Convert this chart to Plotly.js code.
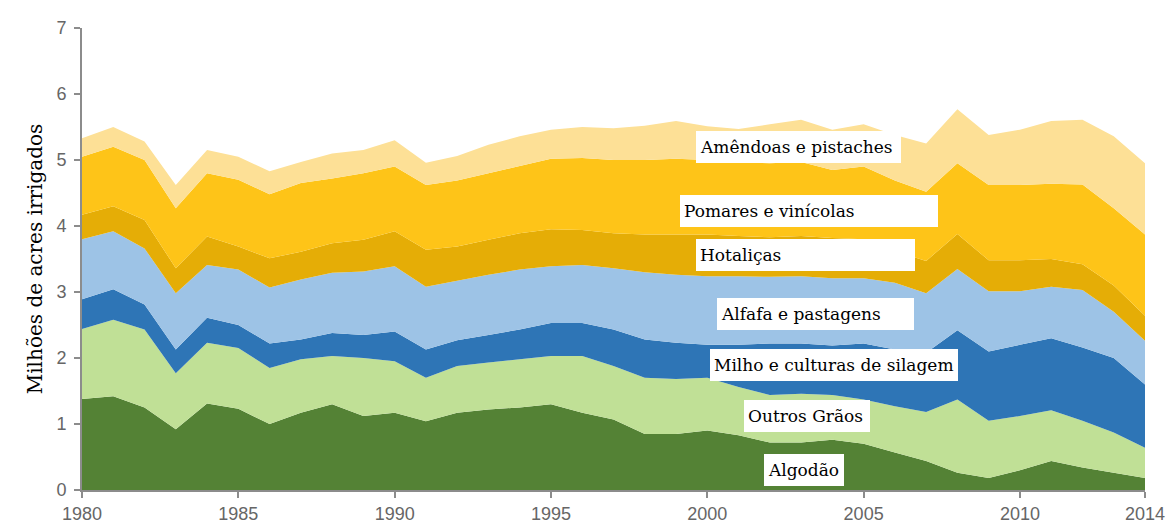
<!DOCTYPE html>
<html>
<head>
<meta charset="utf-8">
<script src="https://cdn.plot.ly/plotly-3.0.1.min.js"></script>
<style>
html,body{margin:0;padding:0;background:#fff;}
#chart{width:1167px;height:527px;}
</style>
</head>
<body>
<div id="chart"></div>
<script>
const years = [1980,1981,1982,1983,1984,1985,1986,1987,1988,1989,1990,1991,1992,1993,1994,1995,1996,1997,1998,1999,2000,2001,2002,2003,2004,2005,2006,2007,2008,2009,2010,2011,2012,2013,2014];

const algodao    = [1.38,1.42,1.25,0.92,1.31,1.23,1.00,1.17,1.30,1.12,1.17,1.04,1.17,1.22,1.25,1.30,1.17,1.07,0.85,0.85,0.90,0.83,0.72,0.72,0.76,0.70,0.57,0.44,0.26,0.18,0.30,0.44,0.34,0.26,0.18];
const outrosGraos= [1.06,1.16,1.18,0.85,0.92,0.92,0.85,0.81,0.73,0.88,0.78,0.66,0.71,0.71,0.73,0.73,0.86,0.81,0.85,0.83,0.80,0.73,0.72,0.74,0.68,0.67,0.70,0.74,1.11,0.87,0.82,0.77,0.71,0.61,0.46];
const milho      = [0.45,0.46,0.38,0.36,0.38,0.35,0.37,0.30,0.35,0.35,0.45,0.43,0.39,0.42,0.45,0.50,0.50,0.55,0.58,0.55,0.50,0.64,0.78,0.76,0.75,0.85,0.86,0.90,1.05,1.05,1.08,1.09,1.11,1.13,0.96];
const alfafa     = [0.91,0.88,0.85,0.85,0.80,0.84,0.85,0.91,0.91,0.96,0.99,0.95,0.90,0.91,0.91,0.86,0.88,0.93,1.02,1.03,1.04,1.04,1.01,1.02,1.02,0.99,1.01,0.90,0.93,0.91,0.81,0.78,0.87,0.70,0.66];
const hortalicas = [0.37,0.38,0.43,0.38,0.43,0.35,0.44,0.42,0.45,0.48,0.53,0.56,0.52,0.53,0.55,0.56,0.53,0.53,0.57,0.61,0.63,0.61,0.60,0.61,0.61,0.59,0.48,0.49,0.53,0.47,0.47,0.42,0.39,0.40,0.38];
const pomares    = [0.88,0.90,0.91,0.91,0.96,1.01,0.97,1.04,0.98,1.01,0.98,0.98,1.00,1.01,1.02,1.07,1.09,1.11,1.13,1.15,1.13,1.12,1.12,1.12,1.03,1.10,1.07,1.05,1.07,1.14,1.14,1.14,1.21,1.17,1.23];
const amendoas   = [0.28,0.30,0.28,0.35,0.35,0.35,0.35,0.32,0.38,0.35,0.40,0.34,0.37,0.43,0.45,0.44,0.47,0.48,0.52,0.57,0.51,0.50,0.59,0.64,0.61,0.64,0.69,0.73,0.82,0.76,0.84,0.95,0.98,1.09,1.08];

const seriesNames = ["Algodão","Outros Grãos","Milho e culturas de silagem","Alfafa e pastagens","Hotaliças","Pomares e vinícolas","Amêndoas e pistaches"];
const seriesValues = [algodao,outrosGraos,milho,alfafa,hortalicas,pomares,amendoas];
const seriesColors = ["#548235","#c0e096","#2e75b6","#9dc3e6","#e5ad06","#fec418","#fde096"];

const xTicks = [1980,1985,1990,1995,2000,2005,2010,2014];
const yTicks = [0,1,2,3,4,5,6,7];

const traces = seriesNames.map((n,i)=>({
  type:'scatter', mode:'none', name:n, x:years, y:seriesValues[i],
  stackgroup:'one', fillcolor:seriesColors[i], line:{width:0, shape:'linear'},
  hoverinfo:'x+y+name'
}));

// label boxes: [text, left px, center y px, box width]
const labelBoxes = [
  ["Amêndoas e pistaches", 696, 147, 205],
  ["Pomares e vinícolas", 680, 211, 258],
  ["Hotaliças", 696, 255, 219],
  ["Alfafa e pastagens", 717, 314, 197],
  ["Milho e culturas de silagem", 710, 365, 248],
  ["Outros Grãos", 744, 416, 126],
  ["Algodão", 764, 470, 80]
];
const W = 1167, H = 527, ml = 82, mr = 22, mt = 28, mb = 37;
const pw = W-ml-mr, ph = H-mt-mb;
const annotations = labelBoxes.map(b=>({
  xref:'paper', yref:'paper',
  x:(b[1]-ml)/pw, y:1-(b[2]-mt)/ph,
  xanchor:'left', yanchor:'middle',
  text:b[0], showarrow:false, align:'left',
  width:b[3]-8, height:24, borderpad:4,
  bgcolor:'#ffffff', borderwidth:0,
  font:{family:'DejaVu Serif, serif', size:17, color:'#000'}
}));

const layout = {
  width:W, height:H,
  margin:{l:ml, r:mr, t:mt, b:mb},
  paper_bgcolor:'#fff', plot_bgcolor:'#fff',
  showlegend:false,
  xaxis:{range:[1980,2014], tickvals:xTicks, ticktext:xTicks.map(String),
    showgrid:false, zeroline:false, showline:true, linecolor:'#8c8c8c', linewidth:2,
    ticks:'outside', ticklen:6, tickwidth:2, tickcolor:'#8c8c8c',
    ticklabeloverflow:'allow',
    tickfont:{family:'Liberation Sans, Arial, sans-serif', size:18, color:'#666'}},
  yaxis:{range:[0,7], tickvals:yTicks,
    showgrid:false, zeroline:false, showline:true, linecolor:'#8c8c8c', linewidth:2,
    ticks:'outside', ticklen:6, tickwidth:2, tickcolor:'#8c8c8c',
    ticklabelstandoff:4,
    tickfont:{family:'Liberation Sans, Arial, sans-serif', size:18, color:'#666'},
    title:{text:'Milhões de acres irrigados', standoff:8,
      font:{family:'DejaVu Serif, serif', size:20, color:'#000'}}},
  annotations:annotations
};
Plotly.newPlot('chart', traces, layout, {displayModeBar:false, staticPlot:true});
</script>
</body>
</html>
